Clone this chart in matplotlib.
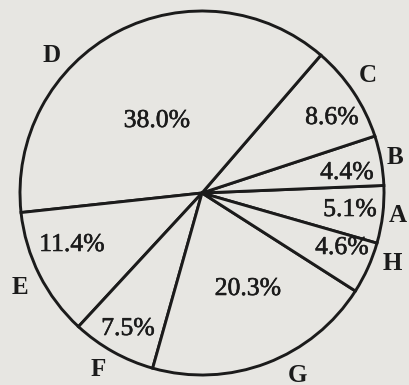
import matplotlib
matplotlib.use("Agg")
import matplotlib.pyplot as plt
import matplotlib.patheffects as pe

# slice data, counterclockwise from A
categorias = ["A", "B", "C", "D", "E", "F", "G", "H"]
percentuais = [5.1, 4.4, 8.6, 38.0, 11.4, 7.5, 20.3, 4.6]

# label placement in image pixels (x, y from top)
pos_letras = {
    "A": (398, 216), "B": (395, 158), "C": (368, 76), "D": (52, 55),
    "E": (20, 288), "F": (98, 369), "G": (297, 376), "H": (392, 263),
}
pos_pct = {
    "A": (350, 210), "B": (347, 173), "C": (332, 118), "D": (157, 121),
    "E": (72, 245), "F": (128, 329), "G": (248, 289), "H": (342, 248),
}

W, H = 409, 385
fundo = "#e7e6e2"
tinta = "#1b1b1b"

plt.rcParams["font.family"] = ["Liberation Serif", "DejaVu Serif"]

fig = plt.figure(figsize=(W / 100, H / 100), dpi=100, facecolor=fundo)
ax = fig.add_axes([0, 0, 1, 1])
ax.set_facecolor(fundo)

ax.pie(
    percentuais,
    center=(202, H - 193),
    radius=182,
    startangle=-16,
    counterclock=True,
    colors=[fundo] * len(percentuais),
    wedgeprops={"edgecolor": tinta, "linewidth": 2.1},
    frame=True,
)
ax.set_xlim(0, W)
ax.set_ylim(0, H)
ax.set_aspect("equal")
ax.axis("off")

# scan-like heavier ink on the text
grosso = [pe.withStroke(linewidth=0.4, foreground=tinta)]

for cat, val in zip(categorias, percentuais):
    x, y = pos_pct[cat]
    ax.text(x, H - y, f"{val:.1f}%", ha="center", va="center",
            fontsize=18.5, color=tinta, path_effects=grosso)
    x, y = pos_letras[cat]
    ax.text(x, H - y, cat, ha="center", va="center",
            fontsize=18, fontweight="bold", color=tinta)

fig.savefig("out.png", dpi=100, facecolor=fundo)
plt.close(fig)
